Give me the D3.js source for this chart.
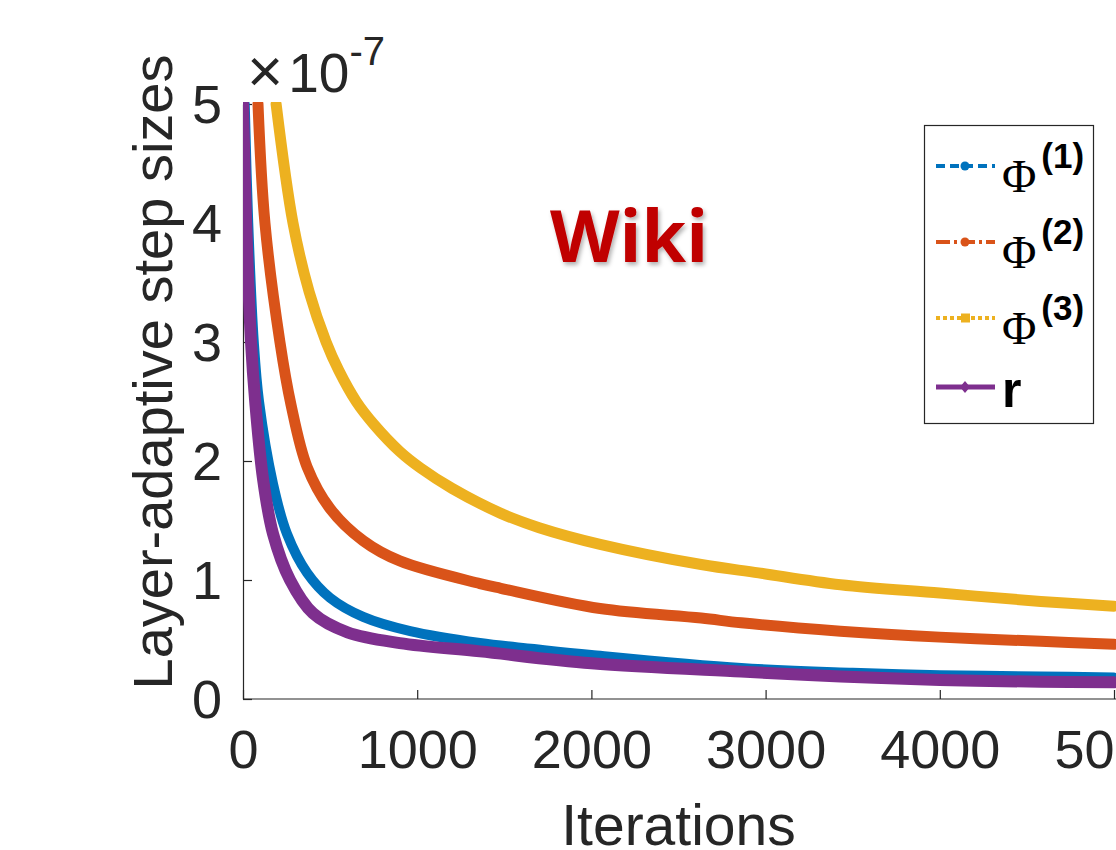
<!DOCTYPE html>
<html>
<head>
<meta charset="utf-8">
<title>Layer-adaptive step sizes - Wiki</title>
<script src="https://d3js.org/d3.v7.min.js"></script>
<style>
  body { margin: 0; background: #fff; }
  svg { display: block; }
  .axis path, .axis line { stroke: #262626; stroke-width: 1.2; }
  .axis text { font-family: "Liberation Sans", Arial, sans-serif; font-size: 54px; fill: #262626; }
</style>
</head>
<body>
<div id="chart"></div>
<script>
// data (values in units of 1e-7)
var itersP1 = [10, 30, 62, 92, 172, 252, 368, 500, 690, 960, 1360, 1670, 2000, 2860, 3500, 4000, 4580, 5000];
var valsP1  = [5.0, 4.0, 3.0, 2.5, 1.81, 1.39, 1.06, 0.85, 0.69, 0.57, 0.47, 0.42, 0.37, 0.26, 0.22, 0.20, 0.19, 0.18];

var itersP2 = [86, 126, 212, 276, 368, 500, 690, 900, 1360, 1480, 2050, 2630, 2860, 3430, 4000, 4580, 5000];
var valsP2  = [5.0, 4.0, 3.0, 2.47, 1.95, 1.60, 1.33, 1.16, 0.97, 0.93, 0.76, 0.68, 0.64, 0.57, 0.52, 0.485, 0.46];

var itersP3 = [190, 287, 380, 477, 550, 650, 750, 900, 1020, 1200, 1480, 1700, 2050, 2630, 2960, 3430, 4000, 4580, 5000];
var valsP3  = [5.0, 4.0, 3.42, 3.0, 2.76, 2.5, 2.31, 2.08, 1.94, 1.77, 1.56, 1.44, 1.30, 1.13, 1.06, 0.96, 0.89, 0.82, 0.78];

var itersR = [0, 18, 46, 70, 115, 172, 270, 402, 600, 900, 1360, 2000, 2860, 3430, 4000, 4580, 5000];
var valsR  = [5.0, 4.0, 3.0, 2.5, 1.85, 1.39, 1.0, 0.72, 0.56, 0.47, 0.40, 0.30, 0.23, 0.19, 0.16, 0.145, 0.14];

var xTicks = [0, 1000, 2000, 3000, 4000, 5000];
var yTicks = [0, 1, 2, 3, 4, 5];

var seriesNames = ["(1)", "(2)", "(3)", "r"];
var seriesColors = ["#0072BD", "#D95319", "#EDB120", "#7E2F8E"];

var series = [
  {name: seriesNames[0], color: seriesColors[0], x: itersP1, y: valsP1, w: 10, dash: "9,5", marker: "dot"},
  {name: seriesNames[1], color: seriesColors[1], x: itersP2, y: valsP2, w: 11, dash: "14,4,3,4", marker: "dot"},
  {name: seriesNames[2], color: seriesColors[2], x: itersP3, y: valsP3, w: 11, dash: "4,3", marker: "square"},
  {name: seriesNames[3], color: seriesColors[3], x: itersR, y: valsR, w: 12, dash: null, marker: "diamond"}
];

var W = 1116, H = 850;
var plot = {left: 243, right: 1114, top: 104, bottom: 699};

var svg = d3.select("#chart").append("svg")
  .attr("width", W).attr("height", H);

var x = d3.scaleLinear().domain([0, 5000]).range([plot.left, plot.right]);
var y = d3.scaleLinear().domain([0, 5]).range([plot.bottom, plot.top]);

// clip so the curves stop at the top of the axes
svg.append("clipPath").attr("id", "clip")
  .append("rect")
    .attr("x", plot.left).attr("y", plot.top - 2)
    .attr("width", W - plot.left).attr("height", plot.bottom - plot.top + 2);

// axes (ticks point inward, like matlab)
var xAxis = svg.append("g").attr("class", "axis")
  .attr("transform", "translate(0," + plot.bottom + ")")
  .call(d3.axisBottom(x).tickValues(xTicks).tickFormat(d3.format("d"))
    .tickSizeInner(-9).tickSizeOuter(0).tickPadding(31));
xAxis.select(".domain").attr("d", "M" + plot.left + ",0H" + W);

var yAxis = svg.append("g").attr("class", "axis")
  .attr("transform", "translate(" + plot.left + ",0)")
  .call(d3.axisLeft(y).tickValues(yTicks).tickFormat(d3.format("d"))
    .tickSizeInner(-9).tickSizeOuter(0).tickPadding(21));
yAxis.selectAll("text").attr("dy", "0.35em");

// curves
var line = d3.line()
  .x(function(d) { return x(d[0]); })
  .y(function(d) { return y(d[1]); })
  .curve(d3.curveCatmullRom.alpha(0.5));

svg.append("g").attr("clip-path", "url(#clip)")
  .selectAll("path")
  .data(series)
  .enter()
  .append("path")
    .attr("d", function(s) { return line(d3.zip(s.x, s.y)); })
    .attr("fill", "none")
    .attr("stroke", function(s) { return s.color; })
    .attr("stroke-width", function(s) { return s.w; })
    .attr("stroke-linecap", "round")
    .attr("stroke-linejoin", "round");

// exponent label
var expo = svg.append("text")
  .attr("x", 247).attr("y", 92)
  .style("font-family", "Liberation Sans, Arial, sans-serif")
  .style("font-size", "55px")
  .style("fill", "#262626");
expo.append("tspan").style("font-size", "62px").text("\u00d7");
expo.append("tspan").attr("dx", 5).text("10");
expo.append("tspan").attr("dy", -27).style("font-size", "40px").text("-7");

// axis titles
svg.append("text")
  .attr("transform", "translate(172,372) rotate(-90)")
  .attr("text-anchor", "middle")
  .style("font-family", "Liberation Sans, Arial, sans-serif")
  .style("font-size", "56px")
  .style("fill", "#262626")
  .text("Layer-adaptive step sizes");

svg.append("text")
  .attr("x", (plot.left + plot.right) / 2).attr("y", 845)
  .attr("text-anchor", "middle")
  .style("font-family", "Liberation Sans, Arial, sans-serif")
  .style("font-size", "57px")
  .style("fill", "#262626")
  .text("Iterations");

// "Wiki" tag with a soft shadow
var f = svg.append("defs").append("filter").attr("id", "shadow")
  .attr("x", "-10%").attr("y", "-10%").attr("width", "130%").attr("height", "140%");
f.append("feDropShadow").attr("dx", 2).attr("dy", 3).attr("stdDeviation", 2)
  .attr("flood-color", "#000").attr("flood-opacity", 0.3);

svg.append("text")
  .attr("x", 550).attr("y", 262)
  .attr("filter", "url(#shadow)")
  .style("font-family", "Open Sans, sans-serif")
  .style("font-weight", "bold")
  .style("font-size", "72px")
  .style("fill", "#C00000")
  .text("Wiki");

// legend
var legend = svg.append("g");
legend.append("rect")
  .attr("x", 924.5).attr("y", 125.5).attr("width", 169).attr("height", 298)
  .attr("fill", "#fff").attr("stroke", "#262626").attr("stroke-width", 1.2);

var rowY = [166, 242, 318, 387];

var rows = legend.selectAll("g.row")
  .data(series)
  .enter()
  .append("g")
    .attr("class", "row")
    .attr("transform", function(d, i) { return "translate(0," + rowY[i] + ")"; });

rows.append("line")
  .attr("x1", 936).attr("x2", 995)
  .attr("stroke", function(d) { return d.color; })
  .attr("stroke-width", function(d) { return d.marker === "diamond" ? 5 : 4; })
  .attr("stroke-dasharray", function(d) { return d.dash; });

rows.each(function(d) {
  var g = d3.select(this);
  if (d.marker === "dot") {
    g.append("circle").attr("cx", 965).attr("r", 4.5).attr("fill", d.color);
  } else if (d.marker === "square") {
    g.append("rect").attr("x", 961).attr("y", -4.5).attr("width", 9).attr("height", 9).attr("fill", d.color);
  } else {
    g.append("path").attr("d", "M965,-6L970,0L965,6L960,0Z").attr("fill", d.color);
  }
});

rows.each(function(d, i) {
  var g = d3.select(this);
  if (d.name === "r") {
    g.append("text").attr("x", 1002).attr("y", 20)
      .style("font-family", "Liberation Sans, Arial, sans-serif")
      .style("font-weight", "bold").style("font-size", "50px").style("fill", "#000")
      .text("r");
  } else {
    var t = g.append("text").attr("x", 1002).attr("y", 26).style("fill", "#000");
    t.append("tspan")
      .style("font-family", "Liberation Serif, Times New Roman, serif")
      .style("font-size", "47px")
      .text("\u03a6");
    t.append("tspan").attr("dx", 5).attr("dy", -24)
      .style("font-family", "Liberation Sans, Arial, sans-serif")
      .style("font-weight", "bold").style("font-size", "35px")
      .text(d.name);
  }
});
</script>
</body>
</html>
